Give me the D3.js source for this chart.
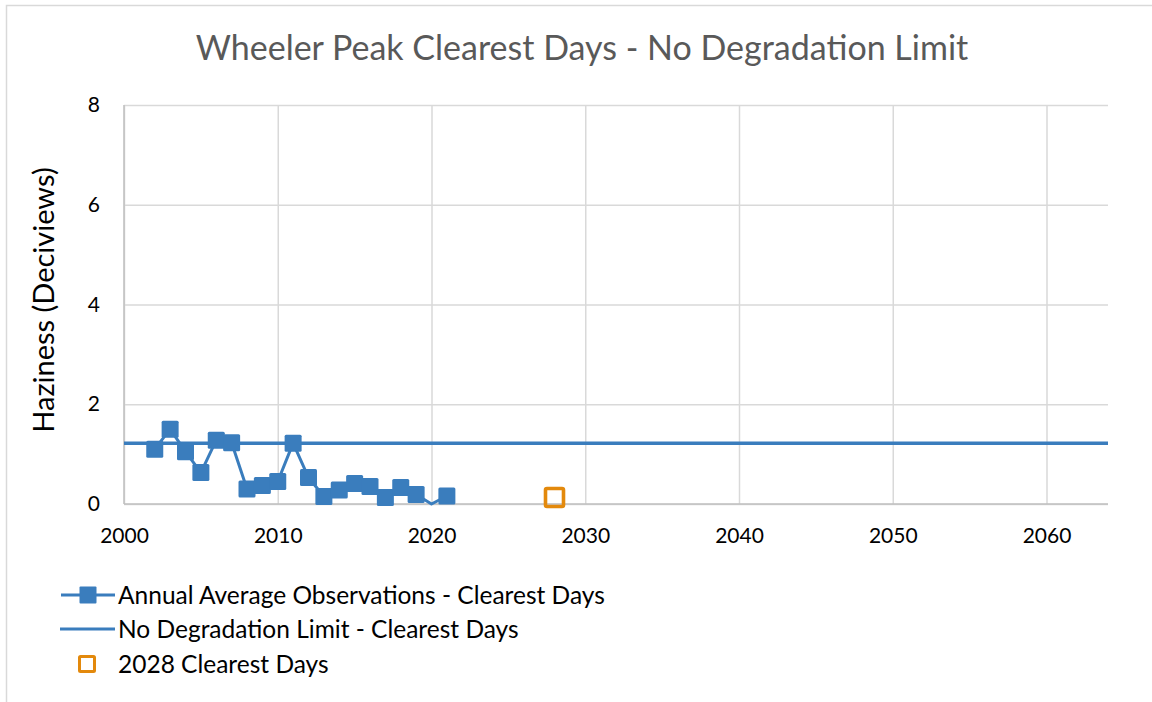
<!DOCTYPE html>
<html>
<head>
<meta charset="utf-8">
<script src="https://cdn.jsdelivr.net/npm/d3@7"></script>
<style>
  body { margin: 0; background: #fff; }
  svg { display: block; }
  text { font-family: Lato, "Open Sans", "Noto Sans", sans-serif; }
</style>
</head>
<body>
<svg id="chart" width="1152" height="702"></svg>
<script>
// Annual average haziness on the clearest days (deciviews); null = no value, plotted at zero
const years = [2002, 2003, 2004, 2005, 2006, 2007, 2008, 2009, 2010, 2011,
               2012, 2013, 2014, 2015, 2016, 2017, 2018, 2019, 2020, 2021];
const observed = [1.10, 1.50, 1.05, 0.63, 1.28, 1.23, 0.30, 0.37, 0.45, 1.22,
                  0.53, 0.15, 0.28, 0.41, 0.35, 0.13, 0.33, 0.19, null, 0.16];

// No degradation limit, held flat across the axis
const limitYears = [2000, 2064];
const limitValues = [1.22, 1.22];

// 2028 clearest days point
const targetYears = [2028];
const targetValues = [0.13];

const xTicks = [2000, 2010, 2020, 2030, 2040, 2050, 2060];
const yTicks = [0, 2, 4, 6, 8];

const titleText = "Wheeler Peak Clearest Days - No Degradation Limit";
const yTitleText = "Haziness (Deciviews)";
const seriesNames = [
  "Annual Average Observations - Clearest Days",
  "No Degradation Limit - Clearest Days",
  "2028 Clearest Days"
];

const BLUE = "#3a7dbd";
const ORANGE = "#e3890c";
const GRID = "#d9d9d9";

const svg = d3.select("#chart");

// chart frame
svg.append("path")
  .attr("d", "M6.5,702 V5.5 H1152")
  .attr("fill", "none")
  .attr("stroke", GRID)
  .attr("stroke-width", 1.5);

const x = d3.scaleLinear().domain([2000, 2064]).range([124, 1108]);
const y = d3.scaleLinear().domain([0, 8]).range([504, 105]);

// title
svg.append("text")
  .attr("x", 582).attr("y", 60)
  .attr("text-anchor", "middle")
  .attr("fill", "#595959")
  .style("font-size", "34px")
  .text(titleText);

// horizontal gridlines + y labels
const yAxis = svg.append("g")
  .attr("transform", `translate(${x.range()[0]},0)`)
  .call(d3.axisLeft(y).tickValues(yTicks).tickFormat(d3.format("d"))
    .tickSize(-(x.range()[1] - x.range()[0])).tickPadding(24));
yAxis.select(".domain").remove();
yAxis.selectAll(".tick line").attr("stroke", GRID).attr("stroke-width", 1.5);
yAxis.selectAll(".tick text")
  .attr("fill", "#000").style("font-size", "21px").style("font-family", "Lato, sans-serif");

// vertical gridlines + x labels
const xAxis = svg.append("g")
  .attr("transform", `translate(0,${y.range()[0]})`)
  .call(d3.axisBottom(x).tickValues(xTicks).tickFormat(d3.format("d"))
    .tickSize(-(y.range()[0] - y.range()[1])).tickPadding(0));
xAxis.select(".domain").remove();
xAxis.selectAll(".tick line").attr("stroke", GRID).attr("stroke-width", 1.5);
xAxis.selectAll(".tick text")
  .attr("y", 39).attr("dy", 0)
  .attr("fill", "#000").style("font-size", "21px").style("font-family", "Lato, sans-serif");

// axis lines
svg.append("line")
  .attr("x1", x(2000)).attr("x2", x(2000))
  .attr("y1", y(8)).attr("y2", y(0))
  .attr("stroke", "#bfbfbf").attr("stroke-width", 1.5);
svg.append("line")
  .attr("x1", x(2000)).attr("x2", x(2064))
  .attr("y1", y(0)).attr("y2", y(0))
  .attr("stroke", "#bfbfbf").attr("stroke-width", 1.5);

// y axis title
svg.append("text")
  .attr("transform", `translate(54,300) rotate(-90)`)
  .attr("text-anchor", "middle")
  .attr("fill", "#000")
  .style("font-size", "29px")
  .text(yTitleText);

// no degradation limit line
const limitLine = d3.line().x(d => x(d[0])).y(d => y(d[1]));
svg.append("path")
  .datum(d3.zip(limitYears, limitValues))
  .attr("d", limitLine)
  .attr("fill", "none")
  .attr("stroke", BLUE)
  .attr("stroke-width", 3.5);

// observations line (missing years drop to zero) and markers
const obs = d3.zip(years, observed);
svg.append("path")
  .datum(obs)
  .attr("d", d3.line().x(d => x(d[0])).y(d => y(d[1] == null ? 0 : d[1])))
  .attr("fill", "none")
  .attr("stroke", BLUE)
  .attr("stroke-width", 3)
  .attr("stroke-linejoin", "round");

const M = 17;
svg.append("g").selectAll("rect")
  .data(obs.filter(d => d[1] != null))
  .join("rect")
  .attr("x", d => x(d[0]) - M / 2)
  .attr("y", d => y(d[1]) - M / 2)
  .attr("width", M).attr("height", M)
  .attr("rx", 1.5)
  .attr("fill", BLUE);

// 2028 point
const T = 18;
svg.append("g").selectAll("rect")
  .data(d3.zip(targetYears, targetValues))
  .join("rect")
  .attr("x", d => x(d[0]) - T / 2)
  .attr("y", d => y(d[1]) - T / 2)
  .attr("width", T).attr("height", T)
  .attr("rx", 1.5)
  .attr("fill", "none")
  .attr("stroke", ORANGE)
  .attr("stroke-width", 3.6);

// legend
const legend = svg.append("g");
const rowY = [595, 629, 664];
const textX = 118;

legend.append("line")
  .attr("x1", 61).attr("x2", 115).attr("y1", rowY[0]).attr("y2", rowY[0])
  .attr("stroke", BLUE).attr("stroke-width", 3);
legend.append("rect")
  .attr("x", 88 - 8.5).attr("y", rowY[0] - 8.5)
  .attr("width", 17).attr("height", 17).attr("rx", 1)
  .attr("fill", BLUE);

legend.append("line")
  .attr("x1", 60).attr("x2", 115).attr("y1", rowY[1]).attr("y2", rowY[1])
  .attr("stroke", BLUE).attr("stroke-width", 3);

legend.append("rect")
  .attr("x", 87 - 7.5).attr("y", rowY[2] - 7.5)
  .attr("width", 15).attr("height", 15).attr("rx", 1)
  .attr("fill", "none").attr("stroke", ORANGE).attr("stroke-width", 3);

legend.selectAll("text")
  .data(seriesNames)
  .join("text")
  .attr("x", textX)
  .attr("y", (d, i) => rowY[i])
  .attr("dy", "0.36em")
  .attr("fill", "#000")
  .style("font-size", "24.5px")
  .text(d => d);
</script>
</body>
</html>
